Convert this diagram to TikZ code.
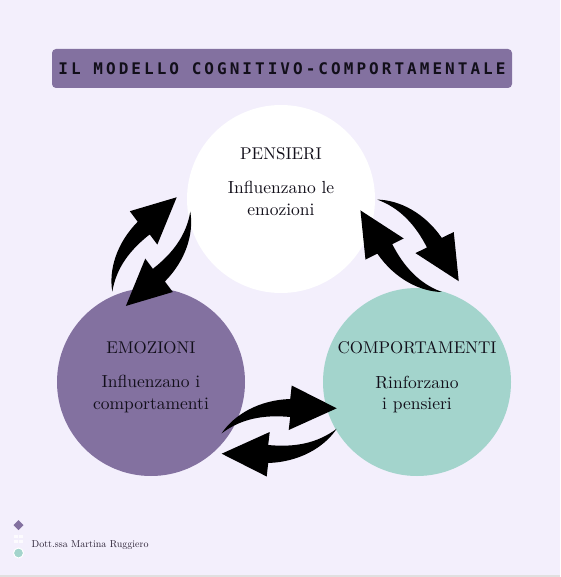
\documentclass[tikz,border=0pt]{standalone}
\usepackage{fontspec}
\newfontfamily\titlefont[LetterSpace=19]{DejaVu Sans Mono}
\newfontfamily\lmten{lmroman10-regular}[Extension=.otf]
\definecolor{bg}{HTML}{F3EFFC}
\definecolor{lilac}{HTML}{8371A0}
\definecolor{mint}{HTML}{A3D4CC}
\definecolor{ink}{HTML}{120F1A}
\definecolor{sig}{HTML}{2A2034}
\newcommand{\arrowpair}[4]{%
  \begin{scope}[shift={(#1,#2)}, rotate=#3, scale=#4]
    \fill[black] (-57.5,2.3) .. controls (-45,-16.5) and (-20,-31) .. (11,-32)
      -- (12.5,-45.5) -- (57.5,-22.7) -- (9.5,-1) -- (11,-14)
      .. controls (-15,-16.5) and (-38,-12.5) .. (-57.5,2.3) -- cycle;
    \fill[black, rotate=180] (-57.5,2.3) .. controls (-45,-16.5) and (-20,-31) .. (11,-32)
      -- (12.5,-45.5) -- (57.5,-22.7) -- (9.5,-1) -- (11,-14)
      .. controls (-15,-16.5) and (-38,-12.5) .. (-57.5,2.3) -- cycle;
  \end{scope}}
\begin{document}
\begin{tikzpicture}[x=1pt,y=-1pt,
  bubble/.style={circle, inner sep=0pt, minimum size=188pt},
  head/.style={anchor=base, text=ink, inner sep=0pt, font=\lmten\fontsize{17}{20}\selectfont},
  body/.style={anchor=base, text=ink, inner sep=0pt, font=\lmten\fontsize{17.5}{21}\selectfont},
  titlebox/.style={fill=lilac, rounded corners=4pt, minimum width=460pt, minimum height=39pt, inner sep=0pt,
    text=ink, font=\titlefont\bfseries\fontsize{16}{16}\selectfont}]
  \fill[bg] (0,0) rectangle (560,577);
  \useasboundingbox (0,0) rectangle (560,577);
  \fill[black!12] (0,574.5) rectangle (560,577);

  \node[titlebox] (title) at (282,68.5) {IL MODELLO COGNITIVO-COMPORTAMENTALE};

  \node[bubble, fill=white] (pens) at (281,199) {};
  \node[bubble, fill=lilac] (emoz) at (151,382) {};
  \node[bubble, fill=mint] (comp) at (417,382) {};

  \node[head] (pensH) at (281,159.3) {PENSIERI};
  \node[body] (pensA) at (281,193.3) {Influenzano le};
  \node[body] (pensB) at (281,215) {emozioni};

  \node[head] (emozH) at (151,353.3) {EMOZIONI};
  \node[body] (emozA) at (151,387.3) {Influenzano i};
  \node[body] (emozB) at (151,409) {comportamenti};

  \node[head] (compH) at (417,353.3) {COMPORTAMENTI};
  \node[body] (compA) at (417,388) {Rinforzano};
  \node[body] (compB) at (417,409) {i pensieri};

  \arrowpair{279.2}{431}{0}{1}
  \arrowpair{151.3}{251.6}{43.4}{0.97}
  \arrowpair{409.6}{245.8}{-57.3}{0.98}

  \fill[lilac] (18.5,520) -- (23.5,525) -- (18.5,530) -- (13.5,525) -- cycle;
  \foreach \dx/\dy in {-2.5/-2.5, 2.5/-2.5, -2.5/2.5, 2.5/2.5}
    \fill[white, opacity=0.8] (18.5+\dx-1.8,539+\dy-1.8) rectangle (18.5+\dx+1.8,539+\dy+1.8);
  \fill[mint, draw=white, line width=1pt] (18.5,553) circle (5pt);
  \node[anchor=west, inner sep=0pt, text=sig, font=\lmten\fontsize{10}{12}\selectfont] (sign) at (31.5,545) {Dott.ssa Martina Ruggiero};
\end{tikzpicture}
\end{document}
